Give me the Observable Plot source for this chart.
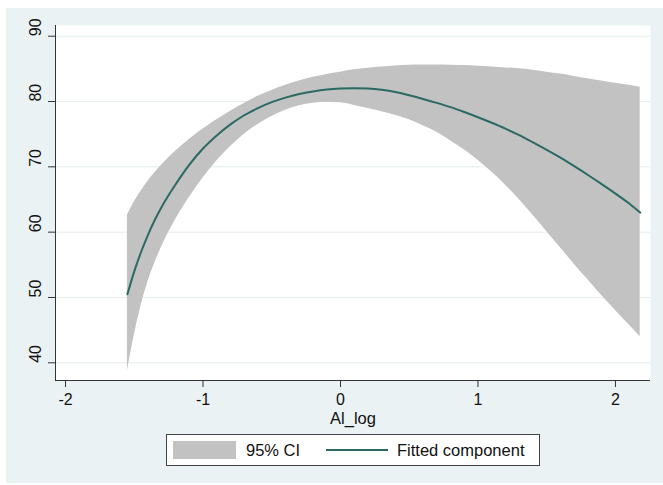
<!DOCTYPE html>
<html>
<head>
<meta charset="utf-8">
<script src="https://cdn.jsdelivr.net/npm/d3@7"></script>
<script src="https://cdn.jsdelivr.net/npm/@observablehq/plot@0.6"></script>
<style>
  html, body { margin: 0; padding: 0; background: #ffffff; }
  #wrap {
    position: relative; margin-left: 6px; margin-top: 8px;
    width: 657px; height: 475px; background: #EAF2F3;
    font-family: "Liberation Sans", Arial, sans-serif; color: #111;
  }
  #legend {
    position: absolute; left: 160px; top: 426px; width: 374px; height: 32px;
    box-sizing: border-box; border: 1px solid #444; background: #fff;
    font-size: 16.5px;
  }
  #legend .sw { position: absolute; left: 6px; top: 6px; width: 63px; height: 18px; background: #C2C2C2; }
  #legend .ln { position: absolute; left: 159px; top: 14px; width: 62px; height: 2px; background: #2A6A62; }
  #legend .tx { position: absolute; top: 0; line-height: 30px; white-space: nowrap; }
</style>
</head>
<body>
<div id="wrap">
  <div id="chart"></div>
  <div id="legend"></div>
</div>
<script>
// ---- data ----
const xs     = [-1.55,-1.5,-1.45,-1.4,-1.35,-1.3,-1.2,-1.1,-1.0,-0.9,-0.8,-0.7,-0.6,-0.5,-0.4,-0.3,-0.2,-0.1,0,0.1,0.2,0.3,0.4,0.5,0.6,0.7,0.8,0.9,1.0,1.1,1.2,1.3,1.4,1.5,1.6,1.7,1.8,1.9,2.0,2.1,2.18];
const fitted = [50.5,54.0,57.0,59.6,61.9,63.9,67.3,70.3,72.8,74.8,76.5,77.9,79.0,79.9,80.6,81.15,81.55,81.85,82.0,82.05,82.0,81.8,81.45,80.95,80.4,79.8,79.15,78.4,77.6,76.75,75.85,74.85,73.75,72.6,71.4,70.1,68.75,67.35,65.9,64.4,63.0];
const upper  = [62.6,64.6,66.3,67.8,69.1,70.3,72.4,74.2,75.8,77.2,78.5,79.7,80.8,81.7,82.5,83.15,83.7,84.15,84.5,84.85,85.1,85.3,85.45,85.55,85.6,85.6,85.55,85.5,85.4,85.3,85.15,85.0,84.8,84.5,84.2,83.85,83.5,83.15,82.8,82.5,82.2];
const lower  = [38.8,44.2,48.8,52.4,55.3,57.8,61.9,65.3,68.3,70.9,73.1,75.0,76.5,77.7,78.65,79.35,79.75,79.9,79.8,79.4,78.95,78.45,77.9,77.2,76.3,75.3,74.0,72.6,71.0,69.2,67.2,65.0,62.6,60.1,57.6,55.1,52.7,50.3,48.0,45.8,44.0];
const xTicks = [-2,-1,0,1,2];
const yTicks = [40,50,60,70,80,90];
const xDomain = [-2.073, 2.255];
const yDomain = [37.29, 91.64];
const xLabel = "Al_log";
const legendLabels = ["95% CI", "Fitted component"];

const data = xs.map((x, i) => ({x, fit: fitted[i], lo: lower[i], hi: upper[i]}));

const chart = Plot.plot({
  width: 657, height: 420,
  marginLeft: 49, marginRight: 13, marginTop: 17, marginBottom: 48,
  style: {background: "transparent", fontFamily: "Liberation Sans, Arial, sans-serif", fontSize: "16px", color: "#111", overflow: "visible"},
  x: {domain: xDomain},
  y: {domain: yDomain},
  marks: [
    Plot.frame({fill: "white", stroke: "none"}),
    Plot.ruleY(yTicks, {stroke: "#E4ECEE", strokeWidth: 1}),
    Plot.areaY(data, {x: "x", y1: "lo", y2: "hi", fill: "#C2C2C2", curve: "monotone-x"}),
    Plot.lineY(data, {x: "x", y: "fit", stroke: "#2A6A62", strokeWidth: 2, curve: "monotone-x"}),
    Plot.ruleX([xDomain[0]], {stroke: "#333", strokeWidth: 1}),
    Plot.ruleY([yDomain[0]], {stroke: "#333", strokeWidth: 1}),
    Plot.axisX({ticks: xTicks, tickSize: 7, tickPadding: 6, tickFormat: d => String(d), label: null, stroke: "#333", fontSize: 16}),
    Plot.axisY({ticks: yTicks, tickSize: 7, tickFormat: () => "", label: null, stroke: "#333"}),
    Plot.text(yTicks, {y: d => d, text: d => String(d), frameAnchor: "left", dx: -20, rotate: -90, fontSize: 16, fill: "#111"}),
    Plot.text([xLabel], {frameAnchor: "bottom", dy: 32, lineAnchor: "top", text: d => d, fontSize: 16.5, fill: "#111"})
  ]
});
document.getElementById("chart").appendChild(chart);

const lg = document.getElementById("legend");
lg.innerHTML =
  `<div class="sw"></div><div class="tx" style="left:79px">${legendLabels[0]}</div>` +
  `<div class="ln"></div><div class="tx" style="left:230px">${legendLabels[1]}</div>`;
</script>
</body>
</html>
